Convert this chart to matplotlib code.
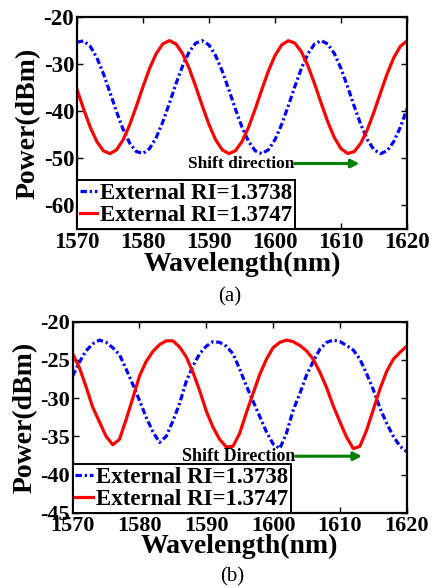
import matplotlib
matplotlib.use("Agg")
import matplotlib.pyplot as plt

plt.rcParams["font.family"] = ["Liberation Serif", "DejaVu Serif"]
plt.rcParams["font.weight"] = "bold"
plt.rcParams["axes.unicode_minus"] = False

# %% Data

# panel (a)
wl_a = list(range(1570, 1621))
ri1_a = [-25.35, -25.06, -26.20, -28.61, -32.02, -36.02, -40.13, -43.88, -46.80, -48.57,
         -48.96, -47.93, -45.60, -42.27, -38.30, -34.17, -30.38, -27.38, -25.52, -25.02,
         -25.94, -28.18, -31.46, -35.39, -39.53, -43.36, -46.43, -48.39, -49.00, -48.18,
         -46.04, -42.82, -38.91, -34.78, -30.90, -27.76, -25.71, -25.00, -25.71, -27.77,
         -30.92, -34.78, -38.92, -42.82, -46.04, -48.18, -49.00, -48.39, -46.43, -43.36,
         -39.52]
ri2_a = [-35.39, -39.52, -43.36, -46.43, -48.39, -49.00, -48.18, -46.04, -42.82, -38.92,
         -34.78, -30.90, -27.76, -25.71, -25.00, -25.71, -27.76, -30.91, -34.78, -38.92,
         -42.82, -46.04, -48.18, -49.00, -48.39, -46.43, -43.36, -39.53, -35.39, -31.46,
         -28.17, -25.94, -25.02, -25.52, -27.38, -30.38, -34.17, -38.30, -42.27, -45.61,
         -47.93, -48.96, -48.57, -46.80, -43.88, -40.13, -36.02, -32.01, -28.61, -26.20,
         -25.06]

# panel (b)
wl_b = list(range(1570, 1621))
ri1_b = [-27.1, -25.3, -23.8, -22.9, -22.4, -22.7, -23.4, -24.3, -26.2, -28.2,
         -30.3, -32.5, -34.4, -35.8, -35.0, -33.0, -30.7, -27.8, -25.8, -24.2,
         -23.2, -22.6, -22.7, -23.2, -24.2, -26.2, -28.4, -30.4, -32.4, -34.4,
         -36.0, -36.6, -34.6, -31.6, -29.4, -27.0, -25.2, -23.6, -22.7, -22.4,
         -22.6, -23.1, -23.7, -24.9, -26.8, -28.9, -31.3, -33.3, -35.0, -36.3,
         -37.0]
ri2_b = [-24.2, -26.0, -28.5, -31.2, -33.1, -35.0, -36.1, -35.4, -32.8, -30.0,
         -27.1, -25.2, -23.9, -23.0, -22.5, -22.5, -23.3, -24.6, -26.6, -29.0,
         -31.7, -33.8, -35.4, -36.4, -36.3, -34.6, -31.9, -29.4, -26.9, -24.9,
         -23.4, -22.7, -22.4, -22.6, -23.1, -23.8, -24.9, -26.6, -28.6, -31.0,
         -33.1, -35.1, -36.6, -36.3, -34.2, -31.5, -28.8, -26.5, -24.9, -24.0,
         -23.2]

labels = ["External RI=1.3738", "External RI=1.3747"]
xticks = [1570, 1580, 1590, 1600, 1610, 1620]

BLUE_DASH = (0, (2.0, 0.9, 0.7, 0.9))

# %% Figure

fig = plt.figure(figsize=(4.34, 5.88), dpi=100)


def style_axes(ax, yticks, ylim, tick_size):
    ax.set_xlim(1570, 1620)
    ax.set_ylim(*ylim)
    ax.set_xticks(xticks)
    ax.set_yticks(yticks)
    ax.tick_params(direction="in", top=True, right=True, length=4, width=1.0,
                   labelsize=tick_size, pad=2)
    for s in ax.spines.values():
        s.set_linewidth(1.6)


def draw_panel(ax, wl, y1, y2, txt, txt_xy, arr_from, arr_to, txt_size):
    ax.plot(wl, y1, color="blue", linewidth=2.3, linestyle=BLUE_DASH, label=labels[0])
    ax.plot(wl, y2, color="red", linewidth=2.3, label=labels[1])
    ax.annotate("", xy=arr_to, xytext=arr_from,
                arrowprops=dict(arrowstyle="-|>", color="green", lw=2.2,
                                mutation_scale=12, shrinkA=0, shrinkB=0))
    ax.text(txt_xy[0], txt_xy[1], txt, fontsize=txt_size, fontweight="bold",
            ha="right", va="center")
    leg = ax.legend(loc="lower left", borderaxespad=0, fontsize=16.5,
                    handlelength=0.75, handletextpad=0.15, borderpad=0.12,
                    labelspacing=0.05, fancybox=False, framealpha=1)
    leg.get_frame().set_edgecolor("black")
    leg.get_frame().set_linewidth(1.4)
    ax.set_xlabel("Wavelength(nm)", fontsize=20, fontweight="bold", labelpad=-1)
    ax.set_ylabel("Power(dBm)", fontsize=20, fontweight="bold", labelpad=2)


# (a)
ax1 = fig.add_axes([0.1774, 0.6105, 0.7604, 0.3605])
style_axes(ax1, [-60, -50, -40, -30, -20], (-65, -20), 16.5)
draw_panel(ax1, wl_a, ri1_a, ri2_a, "Shift direction", (1603.0, -51.3),
           (1603.0, -51.1), (1612.8, -51.1), 12.5)

# (b)
ax2 = fig.add_axes([0.1675, 0.128, 0.7696, 0.3248])
style_axes(ax2, [-45, -40, -35, -30, -25, -20], (-45, -20), 16)
draw_panel(ax2, wl_b, ri1_b, ri2_b, "Shift Direction", (1603.4, -37.6),
           (1603.4, -37.6), (1613.3, -37.6), 13)

fig.text(0.53, 1 - 297 / 588, "(a)", fontsize=15, fontweight="normal",
         ha="center", va="center")
fig.text(0.535, 1 - 577 / 588, "(b)", fontsize=15, fontweight="normal",
         ha="center", va="center")

fig.savefig("out.png", dpi=100)
